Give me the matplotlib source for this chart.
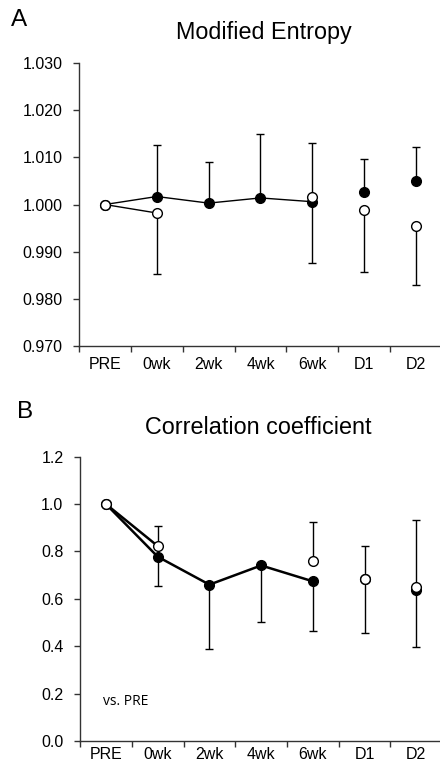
import numpy as np
import matplotlib
matplotlib.use("Agg")
import matplotlib.pyplot as plt

plt.rcParams['font.family'] = ['Liberation Sans', 'DejaVu Sans']

categories = ["PRE", "0wk", "2wk", "4wk", "6wk", "D1", "D2"]

# panel A - modified entropy
ent_filled = [1.000, 1.0017, 1.0003, 1.0014, 1.0006, 1.0026, 1.0050]
ent_filled_up = [np.nan, 1.0126, 1.0090, 1.0150, 1.0131, 1.0097, 1.0122]
ent_open = [1.000, 0.9982, np.nan, np.nan, 1.0016, 0.9988, 0.9955]
ent_open_down = [np.nan, 0.9853, np.nan, np.nan, 0.9875, 0.9856, 0.9828]
ent_ticks = [0.970, 0.980, 0.990, 1.000, 1.010, 1.020, 1.030]

# panel B - correlation coefficient
cor_filled = [1.000, 0.778, 0.660, 0.741, 0.674, 0.684, 0.637]
cor_filled_down = [np.nan, 0.654, 0.390, 0.502, 0.464, 0.454, 0.398]
cor_open = [1.000, 0.823, np.nan, np.nan, 0.760, 0.684, 0.651]
cor_open_up = [np.nan, 0.909, np.nan, np.nan, 0.923, 0.824, 0.933]
cor_ticks = [0.0, 0.2, 0.4, 0.6, 0.8, 1.0, 1.2]

n_line_filled = 5
n_line_open = 2


def draw_panel(ax, filled, open_, fill_err, open_err, fill_up, open_up, lw, xpad):
    x = np.arange(len(categories))
    filled = np.array(filled, dtype=float)
    open_ = np.array(open_, dtype=float)
    fe = np.array(fill_err, dtype=float)
    oe = np.array(open_err, dtype=float)

    # error bars (one sided)
    for xs, ys, es, up in [(x, filled, fe, fill_up), (x, open_, oe, open_up)]:
        ok = ~np.isnan(es) & ~np.isnan(ys)
        d = np.abs(es[ok] - ys[ok])
        yerr = [np.zeros_like(d), d] if up else [d, np.zeros_like(d)]
        ax.errorbar(xs[ok], ys[ok], yerr=yerr, fmt='none', ecolor='black',
                    elinewidth=1, capsize=3.2, capthick=1, zorder=2)

    ax.plot(x[:n_line_filled], filled[:n_line_filled], color='black', lw=lw, zorder=3)
    ax.plot(x[:n_line_open], open_[:n_line_open], color='black', lw=lw, zorder=3)
    ax.plot(x, filled, 'o', ms=7, mfc='black', mec='black', mew=1, zorder=4)
    ax.plot(x, open_, 'o', ms=7, mfc='white', mec='black', mew=1, zorder=5)

    ax.set_xlim(-0.5, len(categories) - 0.5)
    ax.set_xticks(x)
    ax.set_xticklabels(categories)
    ax.set_xticks(np.arange(len(categories) + 1) - 0.5, minor=True)
    ax.tick_params(axis='x', which='major', length=0, pad=xpad, labelsize=11.5)
    ax.tick_params(axis='x', which='minor', length=4, width=1, color='#333333')
    ax.tick_params(axis='y', length=4, width=1, color='#333333', labelsize=11.5, pad=8)
    for s in ['top', 'right']:
        ax.spines[s].set_visible(False)
    for s in ['left', 'bottom']:
        ax.spines[s].set_color('#333333')
        ax.spines[s].set_linewidth(1)


fig = plt.figure(figsize=(4.4, 7.64), dpi=100)

axA = fig.add_axes([0.1795, 0.5475, 0.825, 0.3696])
draw_panel(axA, ent_filled, ent_open, ent_filled_up, ent_open_down, True, False, 1.0, 8)
axA.set_ylim(0.970, 1.030)
axA.set_yticks(ent_ticks)
axA.set_yticklabels([f"{t:.3f}" for t in ent_ticks])

axB = fig.add_axes([0.182, 0.0301, 0.823, 0.3721])
draw_panel(axB, cor_filled, cor_open, cor_filled_down, cor_open_up, False, True, 1.8, 4.5)
axB.set_ylim(0.0, 1.2)
axB.set_yticks(cor_ticks)
axB.set_yticklabels([f"{t:.1f}" for t in cor_ticks])
axB.text(-0.05, 0.165, "vs. PRE", fontsize=10, family=['Open Sans', 'DejaVu Sans'],
         ha='left', va='center')

fig.text(264 / 440, 1 - 32 / 764, "Modified Entropy", fontsize=16.8, ha='center', va='center')
fig.text(19 / 440, 1 - 20 / 764, "A", fontsize=17.5, ha='center', va='center')
fig.text(258 / 440, 1 - 427 / 764, "Correlation coefficient", fontsize=16.8, ha='center', va='center')
fig.text(25 / 440, 1 - 412 / 764, "B", fontsize=17.5, ha='center', va='center')

fig.savefig("out.png", dpi=100)
